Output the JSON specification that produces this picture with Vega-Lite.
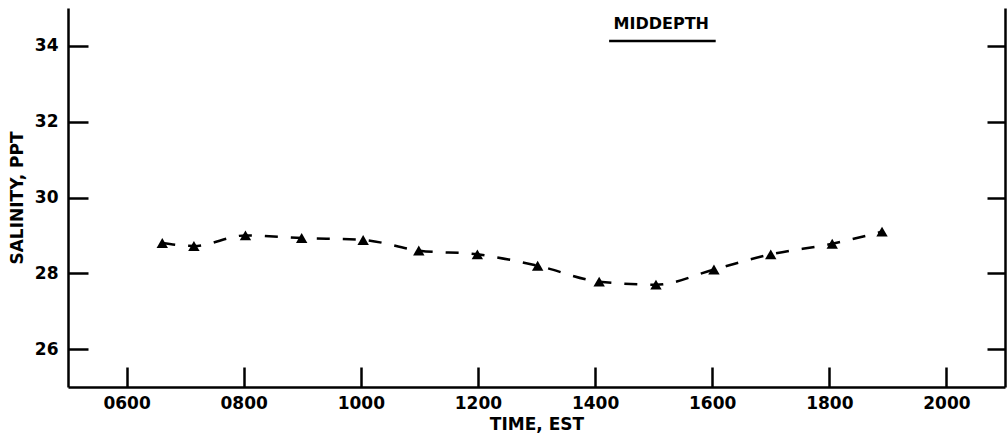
{
  "$schema": "https://vega.github.io/schema/vega-lite/v6.json",
  "width": 937,
  "height": 379,
  "autosize": {"type": "none"},
  "padding": {"left": 68, "top": 8, "right": 3, "bottom": 54},
  "background": "white",
  "config": {
    "view": {"stroke": null},
    "font": "DejaVu Sans",
    "axis": {
      "labelFont": "DejaVu Sans",
      "labelFontWeight": "bold",
      "labelFontSize": 17,
      "labelColor": "black",
      "titleFont": "DejaVu Sans",
      "titleFontWeight": "bold",
      "titleFontSize": 17,
      "titleColor": "black",
      "domainColor": "black",
      "domainWidth": 2.5,
      "tickColor": "black",
      "tickWidth": 2.5,
      "grid": false
    }
  },
  "datasets": {
    "obs": [
      {"hour": 6.61, "salinity": 28.8},
      {"hour": 7.15, "salinity": 28.72},
      {"hour": 8.03, "salinity": 29.0},
      {"hour": 8.99, "salinity": 28.93},
      {"hour": 10.04, "salinity": 28.88},
      {"hour": 10.99, "salinity": 28.6},
      {"hour": 11.99, "salinity": 28.5},
      {"hour": 13.02, "salinity": 28.2},
      {"hour": 14.07, "salinity": 27.78},
      {"hour": 15.04, "salinity": 27.7},
      {"hour": 16.03, "salinity": 28.1},
      {"hour": 17.0, "salinity": 28.5},
      {"hour": 18.05, "salinity": 28.78},
      {"hour": 18.9, "salinity": 29.1}
    ],
    "label": [{"hour": 15.13, "salinity": 34.58, "text": "MIDDEPTH"}],
    "underline": [{"hour": 14.24, "hour2": 16.06, "salinity": 34.13}]
  },
  "resolve": {"axis": {"y": "independent"}},
  "layer": [
    {
      "data": {"name": "obs"},
      "mark": {"type": "line", "interpolate": "monotone", "color": "black", "strokeWidth": 2.5, "strokeDash": [13, 13]},
      "encoding": {
        "x": {
          "field": "hour", "type": "quantitative",
          "scale": {"domain": [5, 21], "nice": false, "zero": false},
          "axis": {
            "title": "TIME, EST",
            "values": [6, 8, 10, 12, 14, 16, 18, 20],
            "labelExpr": "(datum.value < 10 ? '0' : '') + datum.value + '00'",
            "tickSize": -20,
            "labelPadding": 28,
            "titlePadding": 5
          }
        },
        "y": {
          "field": "salinity", "type": "quantitative",
          "scale": {"domain": [25, 35], "nice": false, "zero": false},
          "axis": {
            "title": "SALINITY, PPT",
            "orient": "left",
            "values": [26, 28, 30, 32, 34],
            "tickSize": -20,
            "labelPadding": 30,
            "titlePadding": 8
          }
        }
      }
    },
    {
      "data": {"name": "obs"},
      "mark": {"type": "point", "shape": "triangle-up", "filled": true, "color": "black", "size": 130, "opacity": 1},
      "encoding": {
        "x": {"field": "hour", "type": "quantitative"},
        "y": {
          "field": "salinity", "type": "quantitative",
          "axis": {
            "title": null,
            "orient": "right",
            "values": [26, 28, 30, 32, 34],
            "labels": false,
            "tickSize": -18
          }
        }
      }
    },
    {
      "data": {"name": "label"},
      "mark": {"type": "text", "font": "DejaVu Sans", "fontWeight": "bold", "fontSize": 16, "color": "black"},
      "encoding": {
        "x": {"field": "hour", "type": "quantitative"},
        "y": {"field": "salinity", "type": "quantitative", "axis": null},
        "text": {"field": "text"}
      }
    },
    {
      "data": {"name": "underline"},
      "mark": {"type": "rule", "color": "black", "strokeWidth": 2.5},
      "encoding": {
        "x": {"field": "hour", "type": "quantitative"},
        "x2": {"field": "hour2"},
        "y": {"field": "salinity", "type": "quantitative", "axis": null}
      }
    }
  ]
}
